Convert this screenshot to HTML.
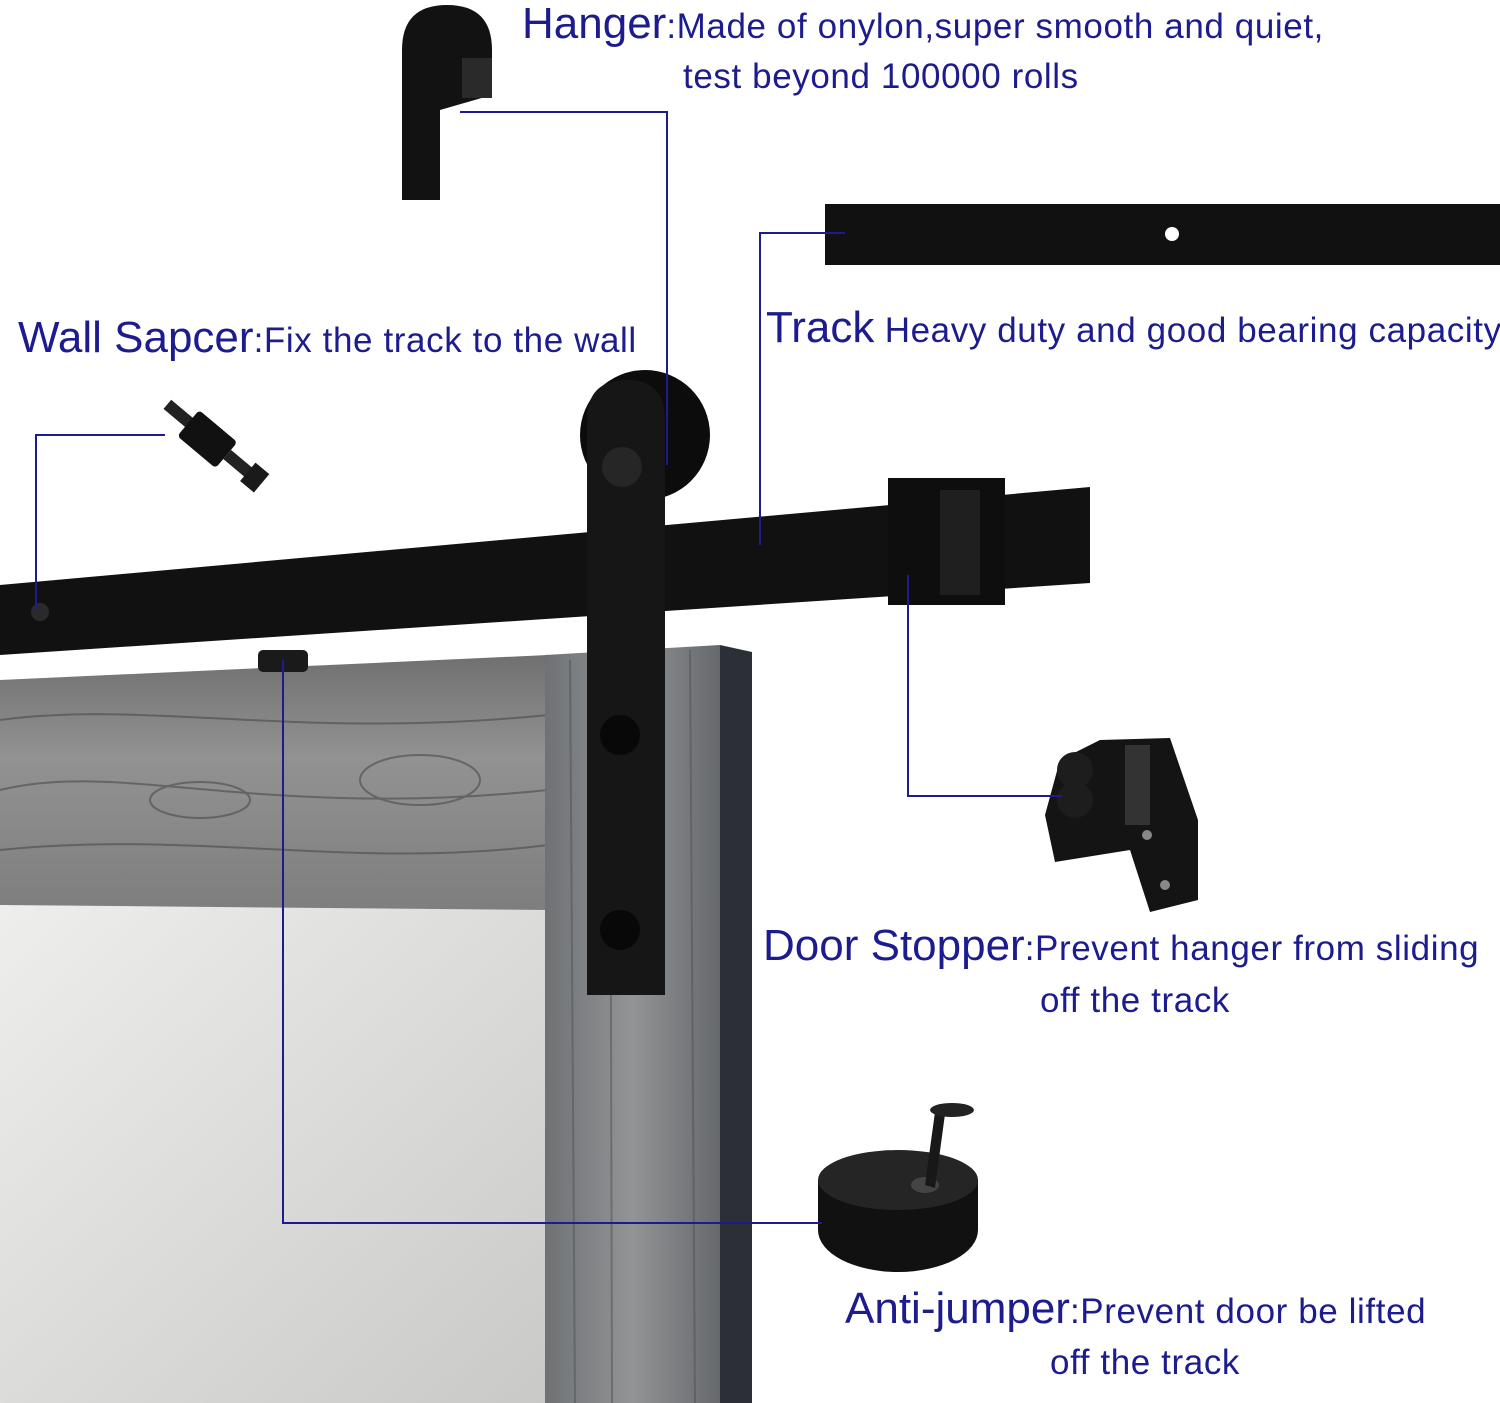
<!DOCTYPE html>
<html><head><meta charset="utf-8"><style>
html,body{margin:0;padding:0;background:#fff}
body{width:1500px;height:1403px;position:relative;overflow:hidden;font-family:"Liberation Sans","DejaVu Sans",sans-serif;color:#1c1c8e}
.t{position:absolute;white-space:nowrap;font-size:35px;line-height:1;letter-spacing:0.6px}
.b{font-size:44px;letter-spacing:0}
</style></head><body>
<svg width="1500" height="1403" style="position:absolute;left:0;top:0">
<defs>
<linearGradient id="gl" x1="0" y1="0" x2="1" y2="1"><stop offset="0" stop-color="#eeeeec"/><stop offset="1" stop-color="#c9c9c7"/></linearGradient>
<linearGradient id="wd" x1="0" y1="0" x2="1" y2="0"><stop offset="0" stop-color="#6f7275"/><stop offset="0.5" stop-color="#929496"/><stop offset="1" stop-color="#66696c"/></linearGradient>
<linearGradient id="wd2" x1="0" y1="0" x2="0" y2="1"><stop offset="0" stop-color="#707070"/><stop offset="0.4" stop-color="#929292"/><stop offset="1" stop-color="#7e7e7e"/></linearGradient>
</defs>
<rect x="0" y="905" width="548" height="498" fill="url(#gl)"/>
<polygon points="0,680 548,655 548,910 0,905" fill="url(#wd2)"/>
<g stroke="#4a4a4a" stroke-width="2" fill="none" opacity="0.6">
<path d="M0,720 C150,700 300,740 548,715"/><path d="M0,790 C120,760 260,820 548,790"/><path d="M0,850 C200,830 350,870 548,845"/>
<ellipse cx="420" cy="780" rx="60" ry="25"/><ellipse cx="200" cy="800" rx="50" ry="18"/></g>
<polygon points="545,655 720,645 720,1403 545,1403" fill="url(#wd)"/>
<g stroke="#505050" stroke-width="2" opacity="0.5"><line x1="570" y1="660" x2="575" y2="1403"/><line x1="610" y1="660" x2="612" y2="1403"/><line x1="690" y1="650" x2="695" y2="1403"/></g>
<polygon points="720,645 752,652 752,1403 720,1403" fill="#2c3036"/>
<rect x="258" y="650" width="50" height="22" rx="5" fill="#1a1a1a"/>
<polygon points="0,585 1090,487 1090,583 0,655" fill="#111"/>
<circle cx="40" cy="612" r="9" fill="#2a2a2a"/>
<ellipse cx="645" cy="435" rx="65" ry="65" fill="#0c0c0c"/>
<path d="M587,420 Q587,380 627,380 Q665,380 665,420 L665,995 L587,995 Z" fill="#161616"/>
<circle cx="622" cy="467" r="20" fill="#262626"/>
<circle cx="620" cy="735" r="20" fill="#080808"/>
<circle cx="620" cy="930" r="20" fill="#080808"/>
<rect x="888" y="478" width="117" height="127" fill="#0e0e0e"/>
<rect x="940" y="490" width="40" height="105" fill="#1f1f1f"/>
<rect x="825" y="204" width="675" height="61" fill="#111"/>
<circle cx="1172" cy="234" r="7" fill="#fff"/>
<path d="M402,50 Q402,5 447,5 Q492,5 492,50 L492,95 L440,110 L440,200 L402,200 Z" fill="#121212"/>
<rect x="462" y="58" width="30" height="40" fill="#2a2a2a"/>
<g transform="rotate(40 205 445)"><rect x="150" y="432" width="30" height="12" fill="#222"/><rect x="178" y="422" width="50" height="34" rx="4" fill="#111"/><rect x="228" y="432" width="40" height="12" fill="#222"/><rect x="255" y="426" width="18" height="24" fill="#1a1a1a"/></g>
<polygon points="1045,815 1060,760 1100,740 1170,738 1198,820 1198,900 1150,912 1130,850 1055,862" fill="#141414"/>
<rect x="1125" y="745" width="25" height="80" fill="#333"/>
<circle cx="1075" cy="770" r="18" fill="#1d1d1d"/><circle cx="1075" cy="800" r="18" fill="#1d1d1d"/>
<circle cx="1147" cy="835" r="5" fill="#888"/><circle cx="1165" cy="885" r="5" fill="#888"/>
<ellipse cx="898" cy="1230" rx="80" ry="42" fill="#111"/>
<rect x="818" y="1180" width="160" height="50" fill="#111"/>
<ellipse cx="898" cy="1180" rx="80" ry="30" fill="#252525"/>
<ellipse cx="925" cy="1185" rx="14" ry="8" fill="#444"/>
<polygon points="925,1185 935,1112 945,1114 935,1188" fill="#181818"/>
<ellipse cx="952" cy="1110" rx="22" ry="7" fill="#222"/>
<g stroke="#1c1c8e" stroke-width="2" fill="none">
<polyline points="460,112 667,112 667,465"/>
<polyline points="845,233 760,233 760,545"/>
<polyline points="165,435 36,435 36,610"/>
<polyline points="908,575 908,796 1062,796"/>
<polyline points="283,660 283,1223 822,1223"/>
</g>
</svg>
<div class="t" style="left:522px;top:2px"><span class="b">Hanger</span>:Made of onylon,super smooth and quiet,</div>
<div class="t" style="left:683px;top:59px">test beyond 100000 rolls</div>
<div class="t" style="left:766px;top:306px"><span class="b">Track</span> Heavy duty and good bearing capacity</div>
<div class="t" style="left:18px;top:316px"><span class="b">Wall Sapcer</span>:Fix the track to the wall</div>
<div class="t" style="left:763px;top:924px"><span class="b">Door Stopper</span>:Prevent hanger from sliding</div>
<div class="t" style="left:1040px;top:983px">off the track</div>
<div class="t" style="left:845px;top:1287px"><span class="b">Anti-jumper</span>:Prevent door be lifted</div>
<div class="t" style="left:1050px;top:1345px">off the track</div>
</body></html>
